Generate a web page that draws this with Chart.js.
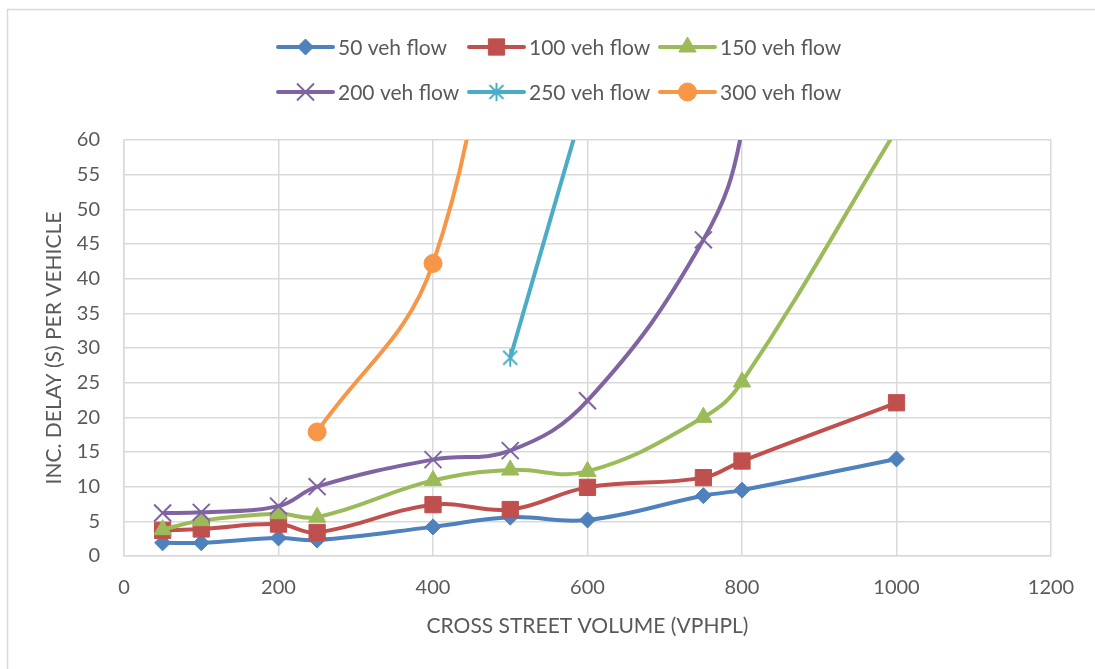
<!DOCTYPE html>
<html>
<head>
<meta charset="utf-8">
<title>Incremental delay per vehicle</title>
<script src="https://cdn.jsdelivr.net/npm/chart.js@4.4.1/dist/chart.umd.min.js"></script>
<style>
  html, body { margin: 0; padding: 0; background: #fff; }
  canvas { display: block; }
</style>
</head>
<body>
<canvas id="chart" width="1095" height="669"></canvas>
<script>
// cross street volume (vphpl) and incremental delay (s/veh) for each main street flow
const seriesNames = ['50 veh flow', '100 veh flow', '150 veh flow', '200 veh flow', '250 veh flow', '300 veh flow'];

const volumeFull = [50, 100, 200, 250, 400, 500, 600, 750, 800, 1000];
const delay50  = [1.9, 1.9, 2.6, 2.3, 4.2, 5.6, 5.2, 8.7, 9.5, 14.0];
const delay100 = [3.7, 3.9, 4.6, 3.4, 7.4, 6.7, 9.9, 11.3, 13.7, 22.1];
const delay150 = [3.8, 5.1, 6.1, 5.6, 10.9, 12.4, 12.2, 20.0, 25.1, 61.5];
const delay200 = [6.2, 6.3, 7.2, 10.0, 13.9, 15.2, 22.4, 45.6, 61.5, 200];

const volume250 = [500, 600];
const delay250  = [28.6, 67];

const volume300 = [250, 400, 500];
const delay300  = [17.9, 42.2, 100];

const xTicks = [0, 200, 400, 600, 800, 1000, 1200];
const yTicks = [0, 5, 10, 15, 20, 25, 30, 35, 40, 45, 50, 55, 60];

const xTitle = 'CROSS STREET VOLUME (VPHPL)';
const yTitle = 'INC. DELAY (S) PER VEHICLE';

// office palette
const colors = ['#4F81BD', '#C0504D', '#9BBB59', '#8064A2', '#4BACC6', '#F79646'];
const textColor = '#595959';
const gridColor = '#d9d9d9';
const FONT = 'Lato';

// asterisk marker: an X with a vertical bar
function makeStar(color, size) {
  const c = document.createElement('canvas');
  c.width = size; c.height = size;
  const g = c.getContext('2d');
  g.strokeStyle = color;
  g.lineWidth = 2;
  const m = size / 2, r = size / 2 - 1;
  const d = r * 0.78;
  g.beginPath();
  g.moveTo(m - d, m - d); g.lineTo(m + d, m + d);
  g.moveTo(m + d, m - d); g.lineTo(m - d, m + d);
  g.moveTo(m, m - r); g.lineTo(m, m + r);
  g.stroke();
  return c;
}

const markers = [
  { style: 'rectRot', radius: 8, border: 1 },
  { style: 'rect', radius: 11.5, border: 1 },
  { style: 'triangle', radius: 10, border: 1 },
  { style: 'crossRot', radius: 12, border: 2 },
  { style: makeStar(colors[4], 20), radius: 10, border: 0 },
  { style: 'circle', radius: 9, border: 1 }
];

const pairs = (xs, ys) => xs.map((x, i) => ({ x, y: ys[i] }));
const seriesData = [
  pairs(volumeFull, delay50),
  pairs(volumeFull, delay100),
  pairs(volumeFull, delay150),
  pairs(volumeFull, delay200),
  pairs(volume250, delay250),
  pairs(volume300, delay300)
];

const datasets = seriesData.map((data, i) => ({
  label: seriesNames[i],
  data,
  borderColor: colors[i],
  backgroundColor: colors[i],
  borderWidth: 4,
  tension: 0.4,
  pointStyle: markers[i].style,
  pointRadius: markers[i].radius,
  pointHoverRadius: markers[i].radius,
  pointBorderWidth: markers[i].border,
  pointBackgroundColor: colors[i],
  pointBorderColor: colors[i],
  clip: 0,
  order: seriesNames.length - i
}));

// page background and outer frame
const frame = {
  id: 'frame',
  beforeDraw(chart) {
    const ctx = chart.ctx;
    ctx.save();
    ctx.fillStyle = '#fff';
    ctx.fillRect(0, 0, chart.width, chart.height);
    ctx.strokeStyle = gridColor;
    ctx.lineWidth = 1.5;
    ctx.strokeRect(7.5, 9.5, chart.width + 20, chart.height + 20);
    ctx.restore();
  }
};

// two-row legend, three entries per row
const legendGrid = {
  id: 'legendGrid',
  afterDraw(chart) {
    const ctx = chart.ctx;
    const cols = [278, 469, 660];
    const rows = [47, 92];
    const lineLen = 55;
    ctx.save();
    chart.data.datasets.forEach((ds, i) => {
      const x = cols[i % 3];
      const y = rows[Math.floor(i / 3)];
      ctx.strokeStyle = ds.borderColor;
      ctx.lineWidth = 4;
      ctx.lineCap = 'round';
      ctx.beginPath();
      ctx.moveTo(x, y);
      ctx.lineTo(x + lineLen, y);
      ctx.stroke();
      ctx.lineCap = 'butt';
      ctx.fillStyle = ds.pointBackgroundColor;
      ctx.strokeStyle = ds.pointBorderColor;
      ctx.lineWidth = ds.pointBorderWidth;
      Chart.helpers.drawPoint(ctx, {
        pointStyle: ds.pointStyle,
        radius: ds.pointRadius,
        rotation: 0,
        borderWidth: ds.pointBorderWidth
      }, x + lineLen / 2, y);
      ctx.fillStyle = textColor;
      ctx.font = '21px ' + FONT;
      ctx.textAlign = 'left';
      ctx.textBaseline = 'middle';
      ctx.fillText(ds.label, x + lineLen + 5, y + 1);
    });
    ctx.restore();
  }
};

new Chart(document.getElementById('chart'), {
  type: 'line',
  data: { datasets },
  options: {
    responsive: false,
    animation: false,
    devicePixelRatio: 1,
    layout: { padding: { top: 140, right: 44, bottom: 0, left: 0 } },
    plugins: {
      legend: { display: false },
      tooltip: { enabled: false }
    },
    scales: {
      x: {
        type: 'linear',
        min: 0,
        max: 1200,
        afterBuildTicks: (scale) => { scale.ticks = xTicks.map(v => ({ value: v })); },
        afterFit: (scale) => { scale.height = 113; },
        grid: { color: gridColor, lineWidth: 1.5, drawTicks: false },
        border: { color: gridColor, width: 1.5 },
        ticks: {
          color: textColor,
          font: { family: FONT, size: 20 },
          padding: 20,
          maxRotation: 0,
          callback: (v) => String(v)
        },
        title: {
          display: true,
          text: xTitle,
          color: textColor,
          font: { family: FONT, size: 21 },
          padding: { top: 0, bottom: 30 }
        }
      },
      y: {
        min: 0,
        max: 60,
        afterBuildTicks: (scale) => { scale.ticks = yTicks.map(v => ({ value: v })); },
        afterFit: (scale) => { scale.width = 124; },
        grid: { color: gridColor, lineWidth: 1.5, drawTicks: false },
        border: { color: gridColor, width: 1.5 },
        ticks: {
          color: textColor,
          font: { family: FONT, size: 20 },
          padding: 24,
          callback: (v) => String(v)
        },
        title: {
          display: true,
          text: yTitle,
          color: textColor,
          font: { family: FONT, size: 21 },
          padding: { top: 42, bottom: 0 }
        }
      }
    }
  },
  plugins: [frame, legendGrid]
});
</script>
</body>
</html>
